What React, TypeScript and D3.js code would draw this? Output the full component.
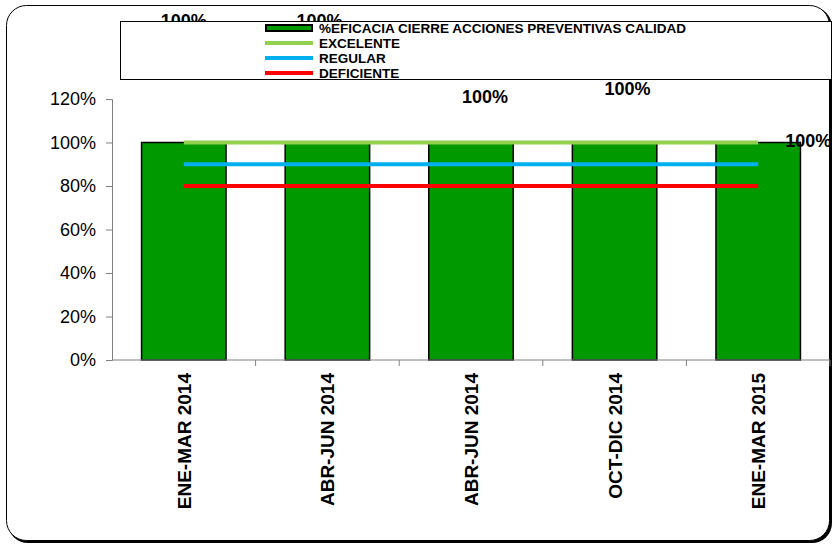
import React, { useRef, useEffect } from "react";
import * as d3 from "d3";

const categories = ["ENE-MAR 2014", "ABR-JUN 2014", "ABR-JUN 2014", "OCT-DIC 2014", "ENE-MAR 2015"];
const eficacia = [1, 1, 1, 1, 1];
const excelente = [1, 1, 1, 1, 1];
const regular = [0.9, 0.9, 0.9, 0.9, 0.9];
const deficiente = [0.8, 0.8, 0.8, 0.8, 0.8];
const yTicks = [0, 0.2, 0.4, 0.6, 0.8, 1, 1.2];
const legendLabels = [
  "%EFICACIA CIERRE ACCIONES PREVENTIVAS CALIDAD",
  "EXCELENTE",
  "REGULAR",
  "DEFICIENTE",
];
// data labels were dragged around by hand in the original
const labelShift = [
  [0, -116],
  [-8, -116],
  [14, -40],
  [13, -48],
  [50, 4],
];

const App: React.FC = () => {
  const ref = useRef<SVGSVGElement | null>(null);

  useEffect(() => {
    const svg = d3.select(ref.current);
    svg.selectAll("*").remove();

    const width = 834;
    const height = 546;
    const font = "Arial, 'Liberation Sans', sans-serif";

    svg.attr("width", width).attr("height", height).style("font-family", font);

    // outer frame
    svg
      .append("rect")
      .attr("x", 8)
      .attr("y", 7)
      .attr("width", 824)
      .attr("height", 536)
      .attr("rx", 20)
      .attr("fill", "#000");
    svg
      .append("rect")
      .attr("x", 6.5)
      .attr("y", 5.5)
      .attr("width", 823)
      .attr("height", 535)
      .attr("rx", 20)
      .attr("fill", "#fff")
      .attr("stroke", "#000")
      .attr("stroke-width", 1);

    const x = d3
      .scaleBand<number>()
      .domain(categories.map((_, i) => i))
      .range([112, 830]);
    const y = d3.scaleLinear().domain([0, 1.2]).range([360, 99]);

    const bw = x.bandwidth() / 1.7;
    const cx = (i: number) => (x(i) || 0) + x.bandwidth() / 2;

    // y axis
    const yAxis = svg
      .append("g")
      .attr("transform", "translate(112,0)")
      .call(
        d3
          .axisLeft(y)
          .tickValues(yTicks)
          .tickSize(6)
          .tickPadding(10)
          .tickFormat(d3.format(".0%"))
      );
    yAxis.select(".domain").attr("stroke", "#808080").attr("stroke-width", 1);
    yAxis.selectAll(".tick line").attr("stroke", "#808080");
    yAxis
      .selectAll(".tick text")
      .attr("font-size", 18)
      .attr("font-family", font)
      .attr("fill", "#000");

    // bars
    svg
      .append("g")
      .selectAll("rect")
      .data(eficacia)
      .enter()
      .append("rect")
      .attr("x", (_, i) => cx(i) - bw / 2)
      .attr("y", (d) => y(d))
      .attr("width", bw)
      .attr("height", (d) => y(0) - y(d))
      .attr("fill", "#009900")
      .attr("stroke", "#000")
      .attr("stroke-width", 1.5);

    // x axis
    const xg = svg.append("g").attr("transform", "translate(0,360)");
    xg.append("line")
      .attr("x1", 112)
      .attr("x2", 830)
      .attr("stroke", "#808080");
    const bounds = categories.map((_, i) => (x(i) || 0) + x.bandwidth());
    xg.selectAll("line.tk")
      .data(bounds)
      .enter()
      .append("line")
      .attr("class", "tk")
      .attr("x1", (d) => d)
      .attr("x2", (d) => d)
      .attr("y1", 0)
      .attr("y2", 6)
      .attr("stroke", "#808080");
    xg.selectAll("text")
      .data(categories)
      .enter()
      .append("text")
      .attr("transform", (_, i) => `translate(${cx(i) + 7},13) rotate(-90)`)
      .attr("text-anchor", "end")
      .attr("font-size", 19)
      .attr("font-weight", "bold")
      .text((d) => d);

    // reference lines
    const refSeries = [
      { values: excelente, color: "#92D050" },
      { values: regular, color: "#00B0F0" },
      { values: deficiente, color: "#FF0000" },
    ];
    const line = d3
      .line<number>()
      .x((_, i) => cx(i))
      .y((d) => y(d));
    refSeries.forEach((s) => {
      svg
        .append("path")
        .attr("d", line(s.values))
        .attr("fill", "none")
        .attr("stroke", s.color)
        .attr("stroke-width", 4);
    });

    // data labels
    svg
      .append("g")
      .selectAll("text")
      .data(eficacia)
      .enter()
      .append("text")
      .attr("x", (_, i) => cx(i) + labelShift[i][0])
      .attr("y", (d, i) => y(d) + labelShift[i][1])
      .attr("text-anchor", "middle")
      .attr("font-size", 18)
      .attr("font-weight", "bold")
      .text((d) => d3.format(".0%")(d));

    // legend
    const lg = svg.append("g");
    lg.append("rect")
      .attr("x", 120.5)
      .attr("y", 21.5)
      .attr("width", 711)
      .attr("height", 58)
      .attr("fill", "#fff")
      .attr("stroke", "#000")
      .attr("stroke-width", 1);
    const legendColors = ["#009900", "#92D050", "#00B0F0", "#FF0000"];
    legendLabels.forEach((lab, i) => {
      const ly = 28 + i * 15;
      if (i === 0) {
        lg.append("rect")
          .attr("x", 266)
          .attr("y", ly - 3)
          .attr("width", 46)
          .attr("height", 6)
          .attr("fill", legendColors[i])
          .attr("stroke", "#000")
          .attr("stroke-width", 2);
      } else {
        lg.append("line")
          .attr("x1", 265)
          .attr("x2", 313)
          .attr("y1", ly)
          .attr("y2", ly)
          .attr("stroke", legendColors[i])
          .attr("stroke-width", 4);
      }
      lg.append("text")
        .attr("x", 319)
        .attr("y", ly + 5)
        .attr("font-size", 13.5)
        .attr("font-weight", "bold")
        .text(lab);
    });
  }, []);

  return (
    <svg
      ref={ref}
      style={{ position: "absolute", left: 0, top: 0, display: "block" }}
    ></svg>
  );
};

export default App;
